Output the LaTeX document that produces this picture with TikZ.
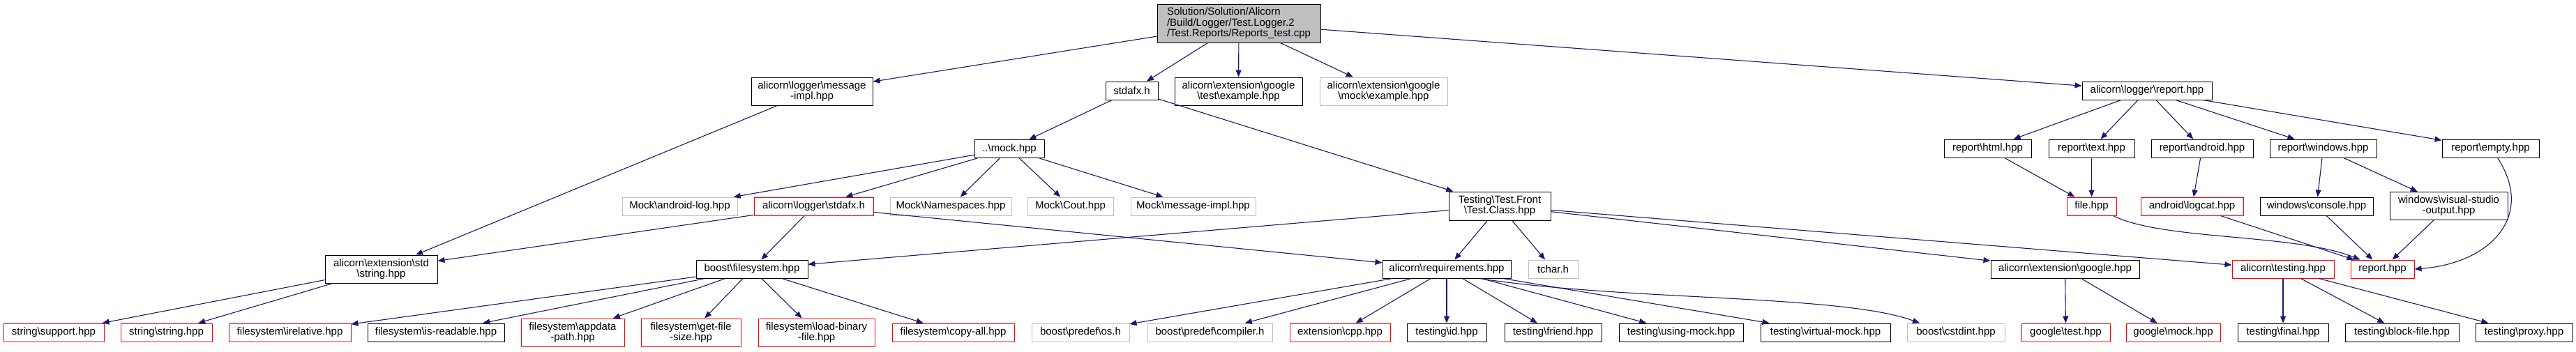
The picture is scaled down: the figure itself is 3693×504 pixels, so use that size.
\documentclass[tikz,border=0pt]{standalone}
\usepackage{fontspec}
\setmainfont{Liberation Sans}
\usetikzlibrary{arrows.meta}

\definecolor{edgeblue}{HTML}{191970}
\definecolor{grey75}{HTML}{BFBFBF}
\newcommand{\bsl}{\textbackslash}

\begin{document}
\begin{tikzpicture}[
    x=1pt, y=-1pt,
    >={Triangle[length=10pt, width=8pt]},
    file/.style={rectangle, draw=black, fill=white, line width=1pt, inner sep=0pt, align=center, minimum height=26pt, font=\fontsize{15}{15}\selectfont},
    trunc/.style={file, draw=red},
    nodoc/.style={file, draw=grey75},
    tall/.style={minimum height=40pt},
    wd/.style={minimum width=#1pt},
    line/.style={draw=edgeblue, ->, line width=1.1pt}
]
    \useasboundingbox (0,0) rectangle (3693,504);

    % Nodes
    \node [file, fill=grey75, wd=234, minimum height=55pt, align=left, font=\fontsize{15}{15.5}\selectfont] (root) at (1776,33.5)
        {Solution/Solution/Alicorn\\/Build/Logger/Test.Logger.2\\/Test.Reports/Reports\_test.cpp};

    \node [file, tall, wd=174] (msgimpl) at (1164,131) {alicorn\bsl logger\bsl message\\-impl.hpp};
    \node [file, wd=75] (stdafx) at (1622.5,130) {stdafx.h};
    \node [file, tall, wd=183] (gtestex) at (1775.5,131) {alicorn\bsl extension\bsl google\\\bsl test\bsl example.hpp};
    \node [nodoc, tall, wd=183] (gmockex) at (1983.5,131) {alicorn\bsl extension\bsl google\\\bsl mock\bsl example.hpp};
    \node [file, wd=186] (logreport) at (3078,130) {alicorn\bsl logger\bsl report.hpp};

    \node [file, wd=100] (mock) at (1447,213.5) {..\bsl mock.hpp};
    \node [file, wd=125] (rhtml) at (2849.5,213) {report\bsl html.hpp};
    \node [file, wd=123] (rtext) at (2998.5,213) {report\bsl text.hpp};
    \node [file, wd=146] (randroid) at (3157,213) {report\bsl android.hpp};
    \node [file, wd=153] (rwindows) at (3330.5,213) {report\bsl windows.hpp};
    \node [file, wd=139] (rempty) at (3570.5,213) {report\bsl empty.hpp};

    \node [nodoc, wd=165] (androidlog) at (974.5,296) {Mock\bsl android-log.hpp};
    \node [trunc, wd=171] (lstdafx) at (1166.5,296) {alicorn\bsl logger\bsl stdafx.h};
    \node [nodoc, wd=174] (namespaces) at (1363,296) {Mock\bsl Namespaces.hpp};
    \node [nodoc, wd=123] (cout) at (1534.5,296) {Mock\bsl Cout.hpp};
    \node [nodoc, wd=179] (mockmsg) at (1710.5,296) {Mock\bsl message-impl.hpp};
    \node [file, wd=146, minimum height=41pt] (testclass) at (2150,295.5) {Testing\bsl Test.Front\\\bsl Test.Class.hpp};
    \node [trunc, wd=71] (filehpp) at (2998.5,296) {file.hpp};
    \node [trunc, wd=147] (logcat) at (3142.5,296) {android\bsl logcat.hpp};
    \node [file, wd=162] (console) at (3321,296) {windows\bsl console.hpp};
    \node [file, tall, wd=169] (vsout) at (3510.5,295.5) {windows\bsl visual-studio\\-output.hpp};

    \node [file, tall, wd=161] (stdstring) at (546.5,386) {alicorn\bsl extension\bsl std\\\bsl string.hpp};
    \node [file, wd=160] (boostfs) at (1078,386) {boost\bsl filesystem.hpp};
    \node [file, wd=184] (req) at (2074,386) {alicorn\bsl requirements.hpp};
    \node [nodoc, wd=71] (tchar) at (2226.5,386) {tchar.h};
    \node [file, wd=213] (google) at (2960.5,386) {alicorn\bsl extension\bsl google.hpp};
    \node [trunc, wd=146] (testing) at (3273,386) {alicorn\bsl testing.hpp};
    \node [trunc, wd=91] (report) at (3415.5,386) {report.hpp};

    \node [trunc, wd=144] (support) at (77,477) {string\bsl support.hpp};
    \node [trunc, wd=131] (string) at (238.5,477) {string\bsl string.hpp};
    \node [trunc, wd=175] (relative) at (415.5,477) {filesystem\bsl irelative.hpp};
    \node [file, wd=196] (readable) at (625,477) {filesystem\bsl is-readable.hpp};
    \node [trunc, tall, wd=148] (appdata) at (821,477) {filesystem\bsl appdata\\-path.hpp};
    \node [trunc, tall, wd=143] (getsize) at (990.5,477) {filesystem\bsl get-file\\-size.hpp};
    \node [trunc, tall, wd=167] (loadbin) at (1170.5,477) {filesystem\bsl load-binary\\-file.hpp};
    \node [trunc, wd=175] (copyall) at (1366.5,477) {filesystem\bsl copy-all.hpp};
    \node [nodoc, wd=140] (os) at (1549,477) {boost\bsl predef\bsl os.h};
    \node [nodoc, wd=179] (compiler) at (1734.5,477) {boost\bsl predef\bsl compiler.h};
    \node [trunc, wd=144] (cpp) at (1921,477) {extension\bsl cpp.hpp};
    \node [file, wd=114] (id) at (2074,477) {testing\bsl id.hpp};
    \node [file, wd=139] (friend) at (2226.5,477) {testing\bsl friend.hpp};
    \node [file, wd=178] (usingmock) at (2410,477) {testing\bsl using-mock.hpp};
    \node [file, wd=186] (virtmock) at (2617,477) {testing\bsl virtual-mock.hpp};
    \node [nodoc, wd=140] (cstdint) at (2804,477) {boost\bsl cstdint.hpp};
    \node [trunc, wd=127] (gtest) at (2961.5,477) {google\bsl test.hpp};
    \node [trunc, wd=135] (gmock) at (3115.5,477) {google\bsl mock.hpp};
    \node [file, wd=130] (final) at (3273,477) {testing\bsl final.hpp};
    \node [file, wd=163] (blockfile) at (3443.5,477) {testing\bsl block-file.hpp};
    \node [file, wd=139] (proxy) at (3618.5,477) {testing\bsl proxy.hpp};

    % Connections
    \foreach \dst in {msgimpl, stdafx, gtestex, gmockex, logreport}
        \path [line] (root) -- (\dst);
    \path [line] (msgimpl) -- (stdstring);
    \path [line] (stdafx) -- (mock);
    \path [line] (stdafx) -- (testclass);
    \foreach \dst in {androidlog, lstdafx, namespaces, cout, mockmsg}
        \path [line] (mock) -- (\dst);
    \foreach \dst in {stdstring, boostfs, req}
        \path [line] (lstdafx) -- (\dst);
    \foreach \dst in {boostfs, req, tchar, google, testing}
        \path [line] (testclass) -- (\dst);
    \path [line] (stdstring) -- (support);
    \path [line] (stdstring) -- (string);
    \foreach \dst in {relative, readable, appdata, getsize, loadbin, copyall}
        \path [line] (boostfs) -- (\dst);
    \foreach \dst in {os, compiler, cpp, id, friend, usingmock, virtmock}
        \path [line] (req) -- (\dst);
    \path [line] ([xshift=47pt]req.south) .. controls (2330,432) and (2640,422) .. ([xshift=-52pt]cstdint.north);
    \path [line] (google) -- (gtest);
    \path [line] (google) -- (gmock);
    \foreach \dst in {final, blockfile, proxy}
        \path [line] (testing) -- (\dst);

    \foreach \dst in {rhtml, rtext, randroid, rwindows, rempty}
        \path [line] (logreport) -- (\dst);
    \path [line] (rhtml) -- (filehpp);
    \path [line] (rtext) -- (filehpp);
    \path [line] (randroid) -- (logcat);
    \path [line] (rwindows) -- (console);
    \path [line] (rwindows) -- (vsout);
    \path [line] ([xshift=31pt]filehpp.south) .. controls (3100,345) and (3290,335) .. ([xshift=-32pt]report.north);
    \path [line] (logcat) -- (report);
    \path [line] (console) -- (report);
    \path [line] (vsout) -- (report);
    \path [line] ([xshift=10pt]rempty.south) .. controls (3635,310) and (3570,378) .. (report.east);

\end{tikzpicture}
\end{document}
